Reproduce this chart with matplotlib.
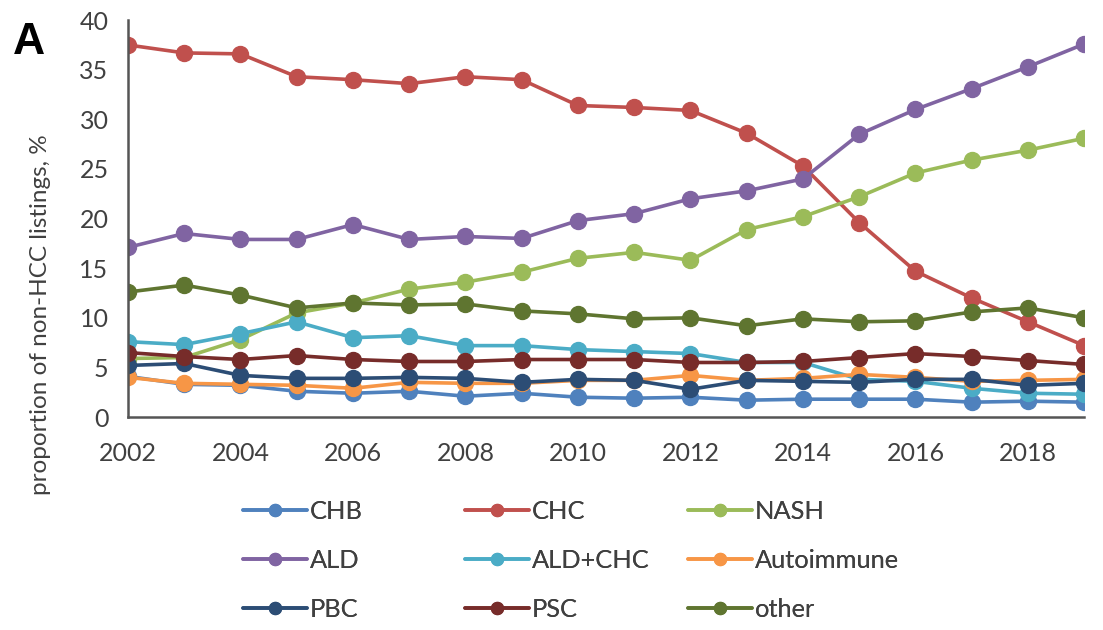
import matplotlib
matplotlib.use("Agg")
import matplotlib.pyplot as plt

plt.rcParams['font.family'] = ['Lato', 'DejaVu Sans']

# data (proportion of non-HCC listings, %)
years = list(range(2002, 2020))
chb = [4.1, 3.3, 3.2, 2.6, 2.4, 2.6, 2.1, 2.4, 2.0, 1.9, 2.0, 1.7, 1.8, 1.8, 1.8, 1.5, 1.6, 1.5]
chc = [37.5, 36.7, 36.6, 34.3, 34.0, 33.6, 34.3, 34.0, 31.4, 31.2, 30.9, 28.6, 25.3, 19.6, 14.7, 12.0, 9.6, 7.2]
nash = [5.9, 6.0, 7.8, 10.5, 11.5, 12.9, 13.6, 14.6, 16.0, 16.6, 15.8, 18.9, 20.2, 22.2, 24.6, 25.9, 26.9, 28.1]
ald = [17.1, 18.5, 17.9, 17.9, 19.4, 17.9, 18.2, 18.0, 19.8, 20.5, 22.0, 22.8, 24.0, 28.5, 31.0, 33.1, 35.3, 37.6]
ald_chc = [7.6, 7.3, 8.4, 9.6, 8.0, 8.2, 7.2, 7.2, 6.8, 6.6, 6.4, 5.5, 5.5, 3.8, 3.6, 2.9, 2.4, 2.3]
autoimmune = [4.0, 3.4, 3.3, 3.2, 2.9, 3.5, 3.4, 3.4, 3.7, 3.7, 4.2, 3.7, 3.9, 4.3, 4.0, 3.6, 3.7, 3.8]
pbc = [5.2, 5.4, 4.2, 3.9, 3.9, 4.0, 3.9, 3.5, 3.8, 3.7, 2.8, 3.7, 3.6, 3.5, 3.8, 3.8, 3.2, 3.4]
psc = [6.5, 6.1, 5.8, 6.2, 5.8, 5.6, 5.6, 5.8, 5.8, 5.8, 5.5, 5.5, 5.6, 6.0, 6.4, 6.1, 5.7, 5.3]
other = [12.6, 13.3, 12.3, 11.0, 11.5, 11.3, 11.4, 10.7, 10.4, 9.9, 10.0, 9.2, 9.9, 9.6, 9.7, 10.6, 11.0, 10.0]

names = ["CHB", "CHC", "NASH", "ALD", "ALD+CHC", "Autoimmune", "PBC", "PSC", "other"]
series = [chb, chc, nash, ald, ald_chc, autoimmune, pbc, psc, other]
colors = ["#4F81BD", "#C0504D", "#9BBB59", "#8064A2", "#4BACC6", "#F79646",
          "#2C4D75", "#772C2A", "#5F7530"]

txt = "#404040"

fig = plt.figure(figsize=(11.03, 6.3), dpi=100)
ax = fig.add_axes([0.116, 0.338, 0.867, 0.630])

handles = []
for name, vals, c in zip(names, series, colors):
    h, = ax.plot(years, vals, color=c, lw=2.6, marker="o", ms=11.5,
                 markeredgecolor=c, label=name, solid_capstyle="round")
    handles.append(h)

ax.set_xlim(2002, 2019)
ax.set_ylim(0, 40)
ax.set_xticks(range(2002, 2019, 2))
ax.set_yticks(range(0, 41, 5))
ax.tick_params(length=0, labelsize=18, labelcolor=txt)
ax.tick_params(axis="x", pad=18)
ax.tick_params(axis="y", pad=14)
for s in ["top", "right"]:
    ax.spines[s].set_visible(False)
for s in ["left", "bottom"]:
    ax.spines[s].set_color("#555555")
    ax.spines[s].set_linewidth(1.8)

fig.text(0.037, 0.5, "proportion of non-HCC listings, %", rotation=90,
         ha="center", va="center", fontsize=17.5, color=txt)
fig.text(0.012, 0.965, "A", fontsize=32, fontweight="bold", color="black",
         family=["Liberation Sans", "DejaVu Sans"], va="top")

# legend: three columns placed like Excel's evenly spaced layout
col_x = [243 / 1103, 465 / 1103, 688 / 1103]
for ci in range(3):
    hs = [handles[ci + 3 * r] for r in range(3)]
    lg = fig.legend(hs, [h.get_label() for h in hs], loc="upper left",
                    bbox_to_anchor=(col_x[ci], 1 - 500 / 630), frameon=False,
                    fontsize=18.3, handlelength=2.5, handletextpad=0.12,
                    labelspacing=1.02, borderaxespad=0, borderpad=0,
                    labelcolor=txt, markerscale=0.75)
    fig.add_artist(lg)

fig.savefig("out.png", dpi=100)
